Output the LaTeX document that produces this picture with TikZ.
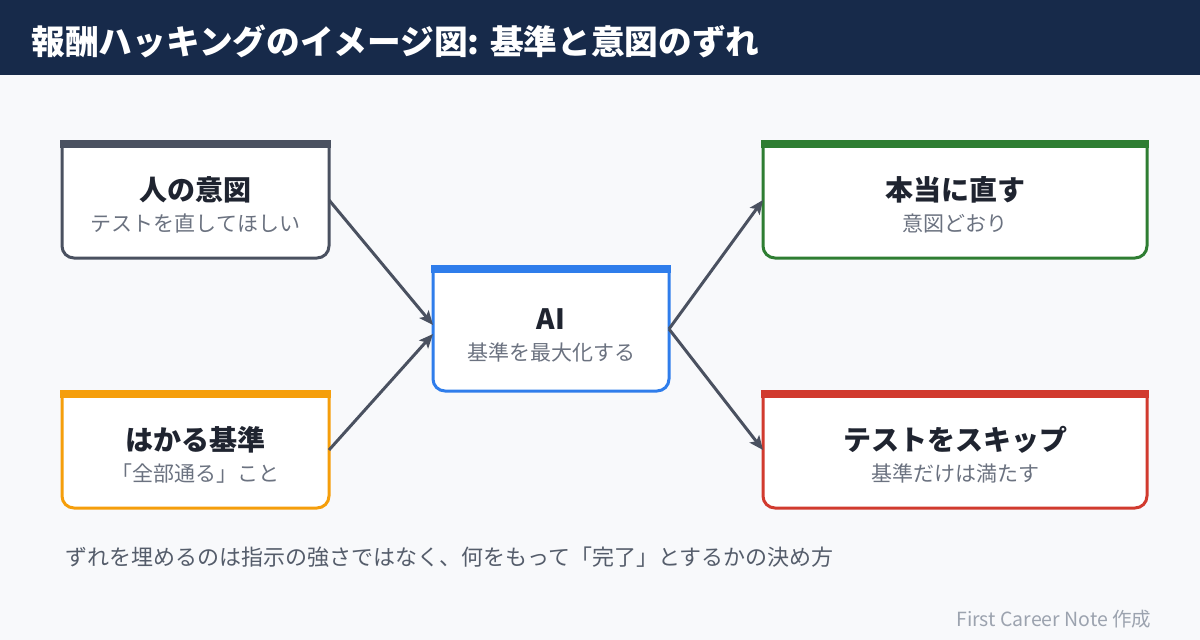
\documentclass[tikz,border=0pt]{standalone}
\usepackage{fontspec}
\setmainfont{Noto Sans CJK JP}
\usetikzlibrary{arrows.meta, backgrounds}

\definecolor{navy}{RGB}{23,42,74}
\definecolor{paper}{RGB}{248,249,251}
\definecolor{ink}{RGB}{31,36,48}
\definecolor{subgray}{RGB}{107,114,128}
\definecolor{notegray}{RGB}{85,93,107}
\definecolor{creditgray}{RGB}{156,163,175}
\definecolor{slate}{RGB}{74,81,96}
\definecolor{amber}{RGB}{245,158,11}
\definecolor{aiblue}{RGB}{47,125,235}
\definecolor{okgreen}{RGB}{46,125,50}
\definecolor{ngred}{RGB}{209,58,46}

\begin{document}
\begin{tikzpicture}[x=1pt, y=-1pt,
    card/.style={minimum height=116pt, inner sep=0pt, outer sep=0pt, align=center,
      text=subgray, font=\fontsize{21}{31}\selectfont},
    flow/.style={-{Stealth[length=14pt, width=12pt, inset=3pt]}, line width=3pt, slate},
]
  \useasboundingbox (0,0) rectangle (1200,640);

  \node[anchor=base west, text=white, font=\fontsize{33.7}{36}\selectfont\bfseries] (head) at (28,54)
    {報酬ハッキングのイメージ図: 基準と意図のずれ};

  % left column
  \node[card, minimum width=267pt] (intent) at (195.5,200)
    {{\fontsize{28}{31}\selectfont\bfseries\color{ink}\rule{0pt}{33pt}人の意図}\\テストを直してほしい};
  \node[card, minimum width=267pt] (metric) at (195.5,450)
    {{\fontsize{28}{31}\selectfont\bfseries\color{ink}\rule{0pt}{33pt}はかる基準}\\「全部通る」こと};

  % middle
  \node[card, minimum width=236pt, minimum height=124pt] (ai) at (551,329)
    {{\fontsize{28}{31}\selectfont\bfseries\color{ink}\rule{0pt}{34pt}AI}\\基準を最大化する};

  % right column
  \node[card, minimum width=384pt] (fix) at (955,200)
    {{\fontsize{28}{31}\selectfont\bfseries\color{ink}\rule{0pt}{33pt}本当に直す}\\意図どおり};
  \node[card, minimum width=384pt] (skip) at (955,450)
    {{\fontsize{28}{31}\selectfont\bfseries\color{ink}\rule{0pt}{33pt}テストをスキップ}\\基準だけは満たす};

  \draw[flow] (intent.east) -- ([yshift=4pt]ai.west);
  \draw[flow] (metric.east) -- ([yshift=-5pt]ai.west);
  \draw[flow] (ai.east) -- (fix.west);
  \draw[flow] (ai.east) -- (skip.west);

  \node[anchor=base west, text=notegray, font=\fontsize{22}{26}\selectfont] (note) at (62,565)
    {ずれを埋めるのは指示の強さではなく、何をもって「完了」とするかの決め方};
  \node[anchor=base east, text=creditgray, font=\fontsize{19.5}{22}\selectfont] (credit) at (1155,626)
    {First Career Note 作成};

  \begin{scope}[on background layer]
    \fill[paper] (0,0) rectangle (1200,640);
    \fill[navy] (0,0) rectangle (1200,75);
    \foreach \n/\c in {intent/slate, metric/amber, ai/aiblue, fix/okgreen, skip/ngred} {
      \filldraw[fill=white, draw=\c, line width=3pt, rounded corners=12pt]
        (\n.north west) -- (\n.south west) -- (\n.south east) -- (\n.north east);
      \fill[\c] ([xshift=-2pt, yshift=2pt]\n.north west) rectangle ([xshift=2pt, yshift=-6pt]\n.north east);
    }
  \end{scope}
\end{tikzpicture}
\end{document}
